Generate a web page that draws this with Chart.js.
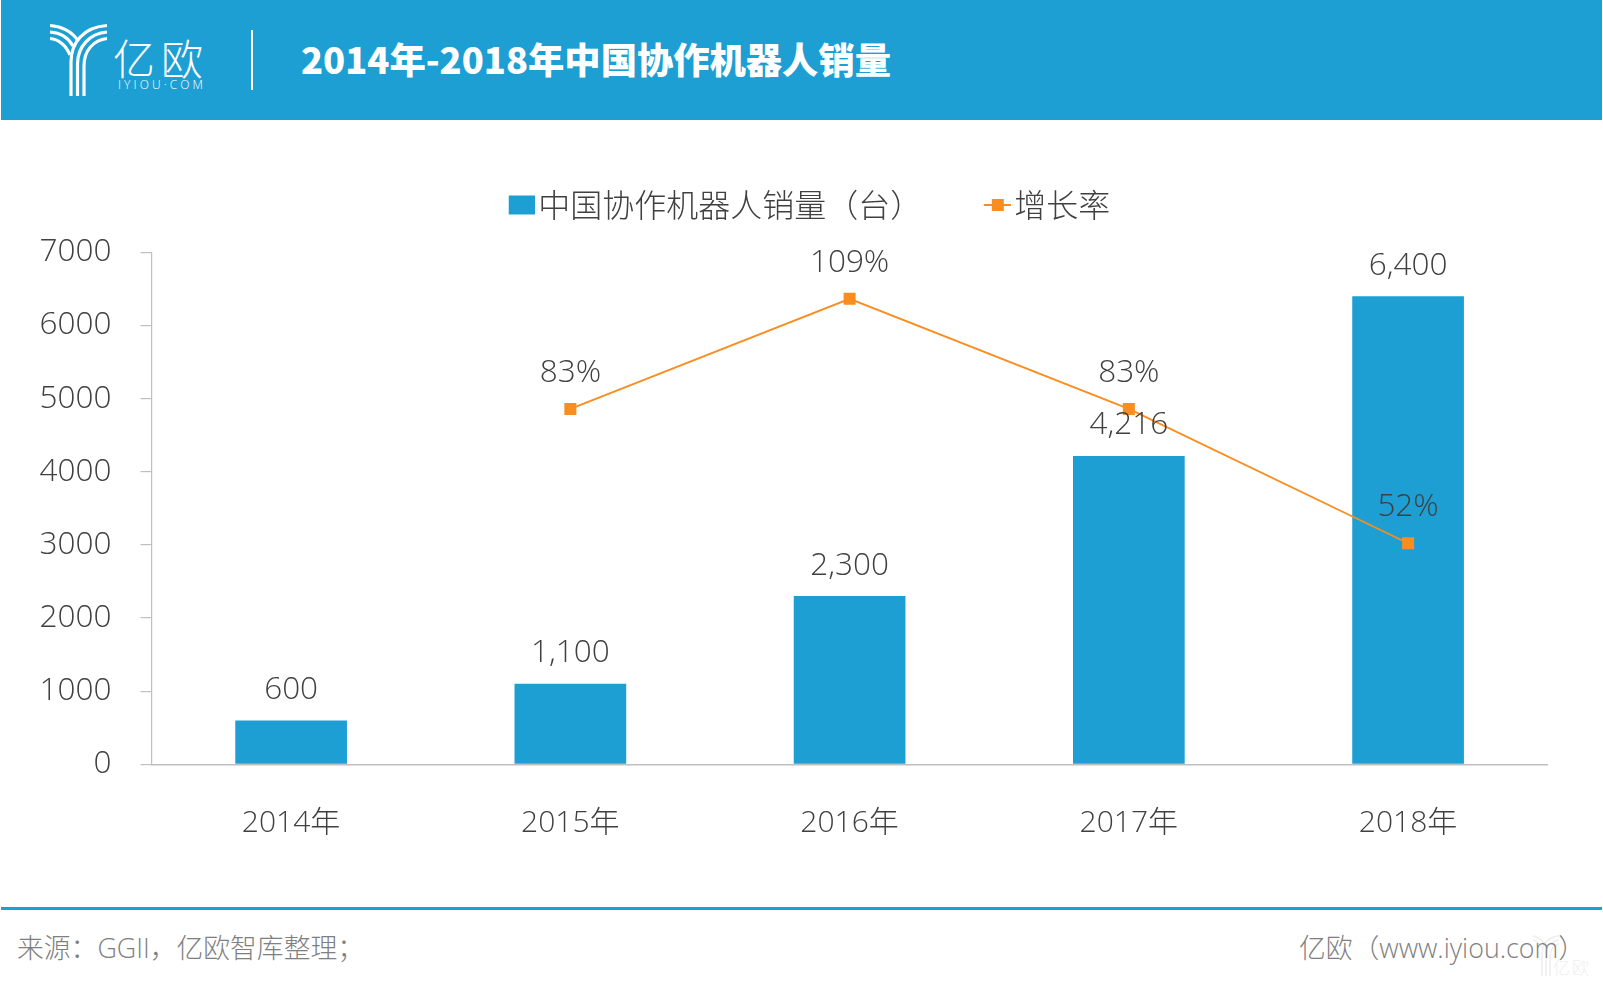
<!DOCTYPE html>
<html lang="zh">
<head>
<meta charset="utf-8">
<script src="https://cdn.jsdelivr.net/npm/chart.js@4"></script>
<style>
html,body{margin:0;padding:0;background:#fff;width:1603px;height:986px;overflow:hidden}
body{position:relative;font-family:"Open Sans","Noto Sans CJK SC",sans-serif}
.abs{position:absolute;white-space:nowrap}
#header{left:1px;top:0;width:1601px;height:120px;background:#1d9fd4}
#divider{left:251px;top:30px;width:2px;height:60px;background:#fff}
#title{left:301px;top:58px;transform:translateY(-50%);color:#fff;font:900 36.3px/1 "Noto Sans CJK SC",sans-serif}
#logoCn{left:113px;top:57px;transform:translateY(-50%);color:#fff;font:200 42px/1 "Noto Sans CJK SC",sans-serif;letter-spacing:6px}
#logoEn{left:118px;top:79px;color:#fff;font:300 12px/1 "Open Sans",sans-serif;letter-spacing:3.1px}
#rule{left:1px;top:907px;width:1601px;height:3px;background:#1d9fd4}
.foot{top:948px;transform:translateY(-50%);color:#7f7f7f;font:300 26.8px/1 "Open Sans","Noto Sans CJK SC",sans-serif}
#src{left:17px}
#site{right:18px}
#wmCn{left:1553px;top:958px;color:#efefef;font:300 17px/1 "Noto Sans CJK SC",sans-serif;letter-spacing:2px}
canvas{position:absolute;left:0;top:0}
</style>
</head>
<body>
<div class="abs" id="header"></div>
<svg class="abs" style="left:0;top:0" width="260" height="110" fill="none" stroke="#fff" stroke-width="3.2">
  <path d="M71 96V62C71 42 84 27 107 25.5"/><path d="M77.5 96V64C77.5 46 90 33.5 107 32"/><path d="M84 96V66C84 50 94 40 107 38.5"/>
  <path d="M50 25.5C60 26 72 31 78 41"/><path d="M50 32C59 32.5 68 37 73 46"/><path d="M50 38.5C58 39 66 45 70 55"/>
</svg>
<div class="abs" id="divider"></div>
<div class="abs" id="logoCn">亿欧</div>
<div class="abs" id="logoEn">IYIOU·COM</div>
<div class="abs" id="title">2014年-2018年中国协作机器人销量</div>
<div class="abs" id="rule"></div>
<svg class="abs" style="left:1532px;top:934px" width="28" height="44" fill="none" stroke="#f0f0f0" stroke-width="1.8">
  <path d="M10 42V20C10 10 16 3 27 2"/><path d="M14 42V21C14 13 19 7 27 6"/><path d="M18 42V22C18 16 22 11 27 10"/>
  <path d="M1 2C6 3 10 6 13 11"/><path d="M1 6C5 7 8 10 11 15"/>
</svg>
<div class="abs" id="wmCn">亿欧</div>
<div class="abs foot" id="src">来源：GGII，亿欧智库整理；</div>
<div class="abs foot" id="site">亿欧（www.iyiou.com）</div>
<canvas id="chart" width="1603" height="986"></canvas>
<script>
const categories = ['2014年','2015年','2016年','2017年','2018年'];
const salesValues = [600,1100,2300,4216,6400];
const growthValues = [null,83.3,109.1,83.3,51.8];
const seriesNames = ['中国协作机器人销量（台）','增长率'];
const yTicks = [0,1000,2000,3000,4000,5000,6000,7000];

const BLUE='#1d9fd4', ORANGE='#f98d20', TEXT='#404040', AXIS='#bfbfbf';
const FONT='"Open Sans","Noto Sans CJK SC",sans-serif';

function swatch(w,h,draw){
  const c=document.createElement('canvas');c.width=w;c.height=h;
  draw(c.getContext('2d'));return c;
}
const barIcon=swatch(37,33,g=>{g.fillStyle=BLUE;g.fillRect(11,4.5,26,19);});
const lineIcon=swatch(37,33,g=>{g.fillStyle=ORANGE;g.fillRect(10,13,28,2);g.fillRect(18,8,12,12);});

const valueLabels={
  id:'valueLabels',
  afterDatasetsDraw(chart){
    const g=chart.ctx;
    g.save();
    g.font='300 31.5px '+FONT;g.fillStyle=TEXT;g.textAlign='center';g.textBaseline='middle';
    chart.getDatasetMeta(0).data.forEach((el,i)=>{
      g.fillText(salesValues[i].toLocaleString('en-US'),el.x,el.y-30.5);
    });
    chart.getDatasetMeta(1).data.forEach((el,i)=>{
      if(growthValues[i]!==null) g.fillText(growthValues[i].toFixed(0)+'%',el.x,el.y-36);
    });
    g.restore();
  }
};
const legendPlace={
  id:'legendPlace',
  beforeLayout(chart){
    const l=chart.legend;
    if(!l._fitWrapped){
      const fit=l.fit;
      l.fit=function(){fit.call(this);this.height=0;};
      l._fitWrapped=true;
    }
  },
  afterLayout(chart){
    const l=chart.legend;
    l.top=127.5;
    l.left+=36.4;l.right+=36.4;
  }
};

new Chart(document.getElementById('chart'),{
  data:{
    labels:categories,
    datasets:[
      {type:'bar',label:seriesNames[0],data:salesValues,backgroundColor:BLUE,
       barPercentage:0.4,categoryPercentage:1,yAxisID:'y',order:2},
      {type:'line',label:seriesNames[1],data:growthValues,borderColor:ORANGE,borderWidth:1.8,
       backgroundColor:ORANGE,pointBackgroundColor:ORANGE,pointBorderWidth:0,pointStyle:'rect',pointRadius:8.5,
       tension:0,spanGaps:false,yAxisID:'y2',order:1}
    ]
  },
  options:{
    responsive:false,animation:false,devicePixelRatio:1,
    layout:{autoPadding:false,padding:{left:0,right:55.3,top:252.3,bottom:121.7}},
    plugins:{
      tooltip:{enabled:false},
      title:{display:false},
      legend:{
        position:'top',align:'center',
        labels:{
          usePointStyle:true,pointStyleWidth:12,boxHeight:33,padding:64,color:TEXT,
          font:{family:FONT,size:32,weight:'300'},
          generateLabels(chart){
            return [
              {text:seriesNames[0],pointStyle:barIcon,fontColor:TEXT,datasetIndex:0,lineWidth:0},
              {text:seriesNames[1],pointStyle:lineIcon,fontColor:TEXT,datasetIndex:1,lineWidth:0}
            ];
          }
        }
      }
    },
    scales:{
      x:{
        grid:{display:false},
        border:{color:AXIS,width:1.5},
        ticks:{color:TEXT,padding:33,font:{family:FONT,size:30,weight:'300'}},
        afterFit(a){a.height=100;}
      },
      y:{
        min:0,max:7000,
        afterBuildTicks(a){a.ticks=yTicks.map(v=>({value:v}));},
        grid:{drawOnChartArea:false,color:AXIS,tickLength:11,lineWidth:1.2},
        border:{color:AXIS,width:1.2},
        ticks:{color:TEXT,padding:29,font:{family:FONT,size:31.5,weight:'300'},callback:v=>String(v)},
        afterFit(a){a.width=151.5;}
      },
      y2:{min:0,max:120,display:false}
    }
  },
  plugins:[valueLabels,legendPlace]
});
</script>
</body>
</html>
